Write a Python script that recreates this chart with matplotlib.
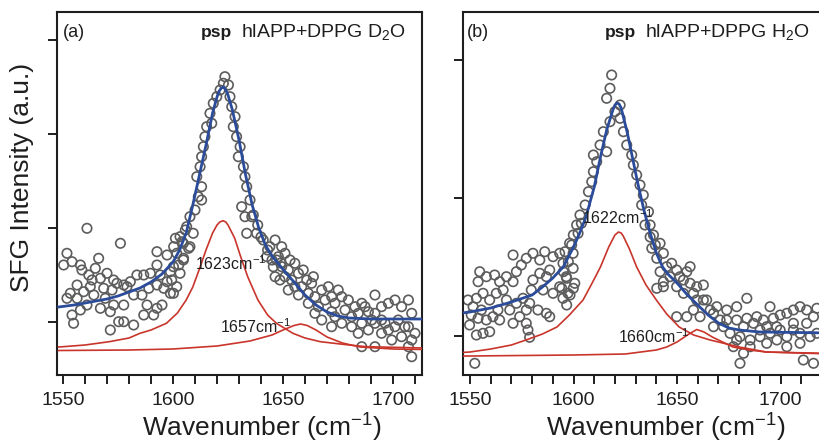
import numpy as np
import matplotlib
matplotlib.use("Agg")
import matplotlib.pyplot as plt
from matplotlib.ticker import MultipleLocator, FixedLocator

plt.rcParams['font.family'] = ['Liberation Sans', 'DejaVu Sans']
plt.rcParams['mathtext.fontset'] = 'custom'
plt.rcParams['mathtext.rm'] = 'Liberation Sans'
plt.rcParams['mathtext.it'] = 'Liberation Sans:italic'
plt.rcParams['mathtext.bf'] = 'Liberation Sans:bold'

# ---- panel (a): hIAPP + DPPG in D2O ----
wn_a = [1560.9, 1576.1, 1551.8, 1554.1, 1557.9, 1550.3, 1558.6, 1561.7, 1566.2, 1564.7,
        1563.2, 1567.0, 1556.4, 1559.4, 1562.4, 1553.3, 1551.8, 1556.4, 1564.0, 1568.5,
        1569.2, 1572.3, 1573.0, 1570.0, 1574.5, 1577.6, 1580.6, 1583.6, 1586.7, 1589.7,
        1592.7, 1594.2, 1592.7, 1597.3, 1600.3, 1601.1, 1604.1, 1607.1, 1605.6, 1598.8,
        1597.3, 1595.8, 1598.8, 1592.7, 1589.0, 1585.9, 1582.1, 1579.1, 1577.6, 1573.0,
        1571.5, 1575.3, 1577.6, 1582.1, 1571.5, 1567.0, 1560.9, 1557.9, 1554.1, 1554.8,
        1588.2, 1592.7, 1591.2, 1595.0, 1586.7, 1604.8, 1602.6,
        1623.6, 1622.9, 1621.4, 1625.2, 1619.9, 1625.9, 1618.3, 1626.7, 1616.8, 1628.2,
        1617.6, 1615.3, 1627.4, 1614.5, 1628.9, 1613.8, 1630.5, 1613.0, 1629.7, 1612.3,
        1632.0, 1610.8, 1632.7, 1613.0, 1633.5, 1611.5, 1613.0, 1631.2, 1635.0, 1610.0,
        1607.7, 1632.7, 1635.8, 1606.2, 1609.2, 1633.5, 1638.0, 1641.0, 1604.7, 1607.7,
        1601.7, 1604.7, 1644.0, 1642.6, 1647.1, 1600.2, 1603.2, 1599.4, 1601.7, 1600.2,
        1645.6, 1648.6, 1603.2, 1636.5, 1638.5, 1640.0, 1643.0, 1645.0, 1649.0,
        1646.4, 1647.9, 1650.9, 1649.4, 1646.4, 1652.4, 1655.4, 1653.9, 1657.0, 1658.5,
        1660.8, 1663.0, 1661.5, 1652.4, 1657.0, 1664.5, 1666.1, 1669.1, 1670.6, 1675.1,
        1676.7, 1673.6, 1679.7, 1682.7, 1685.8, 1691.8, 1688.8, 1691.8, 1694.8, 1697.9,
        1700.9, 1703.9, 1707.0, 1708.5, 1673.6, 1676.7, 1681.2, 1685.8, 1684.2, 1688.8,
        1691.8, 1694.8, 1697.9, 1700.9, 1703.9, 1708.5, 1707.0, 1708.5, 1699.4, 1691.8,
        1685.8, 1672.1, 1667.6,
        1649.4, 1653.2, 1659.2, 1663.8, 1667.6, 1672.1, 1678.2, 1684.2, 1687.3, 1694.8,
        1702.4, 1705.4, 1696.4, 1690.3, 1681.2, 1672.1, 1664.5, 1661.5, 1655.4, 1650.9,
        1707.0, 1710.0]
sfg_a = [146.7, 131.7, 121.7, 113.3, 110.0, 110.0, 105.0, 100.0, 116.7, 106.7,
         95.0, 96.7, 90.0, 83.3, 88.3, 81.7, 76.7, 76.7, 80.0, 86.7,
         76.7, 85.0, 95.0, 101.7, 91.7, 90.0, 93.3, 100.0, 100.0, 101.7,
         110.0, 100.0, 123.3, 120.0, 128.3, 136.7, 133.3, 126.7, 145.0, 103.3,
         93.3, 86.7, 81.7, 90.0, 86.7, 80.0, 80.0, 88.3, 70.0, 70.0,
         63.3, 53.3, 53.3, 50.0, 45.0, 66.7, 70.0, 65.0, 60.0, 51.7,
         70.0, 66.7, 60.0, 70.0, 60.0, 116.7, 110.0,
         298.3, 291.7, 285.0, 290.0, 278.3, 278.3, 271.7, 268.3, 261.7, 258.3,
         251.7, 248.3, 248.3, 238.3, 238.3, 228.3, 228.3, 218.3, 218.3, 208.3,
         208.3, 198.3, 198.3, 188.3, 188.3, 178.3, 175.0, 168.3, 175.0, 165.0,
         158.3, 158.3, 158.3, 148.3, 141.7, 141.7, 141.7, 135.0, 131.7, 128.3,
         121.7, 115.0, 128.3, 118.3, 115.0, 108.3, 101.7, 95.0, 88.3, 81.7,
         108.3, 95.0, 138.3, 160.0, 150.0, 138.0, 125.0, 115.0, 112.0,
         135.0, 118.3, 121.7, 108.3, 98.3, 105.0, 111.7, 95.0, 101.7, 88.3,
         95.0, 91.7, 81.7, 85.0, 80.0, 78.3, 68.3, 75.0, 88.3, 85.0,
         78.3, 71.7, 75.0, 68.3, 71.7, 80.0, 63.3, 61.7, 68.3, 71.7,
         75.0, 68.3, 75.0, 61.7, 58.3, 51.7, 48.3, 51.7, 41.7, 45.0,
         51.7, 41.7, 45.0, 48.3, 38.3, 35.0, 28.3, 18.3, 35.0, 28.3,
         28.3, 48.3, 55.0,
         128.3, 115.0, 105.0, 98.3, 85.0, 78.3, 65.0, 61.7, 68.3, 55.0,
         55.0, 48.3, 51.7, 55.0, 58.3, 63.3, 61.7, 71.7, 88.3, 98.3,
         48.3, 41.7]

fit_wn_a = [1548, 1555, 1560, 1565, 1570, 1575, 1580, 1585, 1590, 1595, 1600, 1603,
            1606, 1609, 1612, 1615, 1618, 1620, 1621, 1622, 1623, 1624, 1625, 1627,
            1630, 1633, 1636, 1639, 1642, 1645, 1648, 1651, 1655, 1660, 1665, 1670,
            1675, 1680, 1690, 1714]
fit_a = [68, 70, 72, 74, 76, 79, 83, 87, 93, 101, 113, 125,
         142, 170, 200, 230, 262, 278, 284, 287, 288, 285, 280, 265,
         235, 200, 170, 147, 130, 119, 111, 103, 93, 80, 70, 63,
         59, 57, 56, 56]

peak1_wn_a = [1548, 1550, 1560, 1571, 1580, 1585, 1590, 1597, 1602, 1606, 1609, 1612,
              1615, 1618, 1620, 1621.3, 1622.7, 1624, 1625, 1628, 1630.5, 1634, 1638.6,
              1643, 1647, 1654.5, 1660, 1667, 1680, 1688, 1714]
peak1_a = [28, 28.3, 30, 33.3, 37, 41.7, 45, 51.7, 62, 75, 88, 106,
           125, 142, 150, 153, 154.3, 153, 150, 137, 120, 98, 75,
           60, 51.7, 41.7, 37, 33.3, 30, 28.3, 27]

peak2_wn_a = [1548, 1580, 1600, 1620, 1635, 1645, 1650, 1655, 1658, 1661, 1665, 1670,
              1677, 1685, 1700, 1714]
peak2_a = [24.5, 25, 26, 29, 34, 40, 45, 49.5, 51, 49.5, 45, 38,
           32, 28, 26, 25.5]

# ---- panel (b): hIAPP + DPPG in H2O ----
wn_b = [1552.3, 1578.8, 1553.1, 1549.8, 1556.3, 1559.5, 1550.6, 1553.9, 1557.9, 1551.5,
        1555.5, 1549.0, 1553.1, 1556.3, 1559.5, 1562.7, 1553.9, 1554.7, 1557.9, 1561.9,
        1564.3, 1566.0, 1567.6, 1570.8, 1572.4, 1567.6, 1563.5, 1561.1, 1564.3, 1569.2,
        1572.4, 1575.6, 1577.2, 1578.8, 1582.8, 1586.9, 1588.5, 1577.2, 1578.0, 1570.8,
        1574.0, 1579.6, 1580.4, 1574.8, 1570.8, 1577.2, 1580.4, 1583.7, 1586.1, 1590.1,
        1593.3, 1594.9, 1598.1, 1599.8, 1602.2, 1603.8, 1599.8, 1596.5, 1593.3, 1590.1,
        1594.9, 1585.3, 1586.9, 1583.7, 1600.6, 1597.3, 1588.5,
        1618.4, 1617.6, 1616.0, 1620.0, 1617.6, 1622.5, 1614.4, 1624.1, 1612.8, 1625.7,
        1616.0, 1628.1, 1611.2, 1628.9, 1609.6, 1630.5, 1608.8, 1632.1, 1607.2, 1633.7,
        1605.6, 1632.9, 1603.1, 1636.2, 1601.5, 1637.0, 1599.9, 1599.1, 1638.6, 1595.9,
        1597.5, 1595.1, 1637.8, 1640.2, 1641.8, 1643.4, 1640.2, 1596.7, 1594.3, 1599.9,
        1598.3, 1596.7, 1609.6, 1622.5, 1634.5, 1637.0, 1639.5,
        1641.8, 1643.4, 1645.0, 1647.4, 1649.8, 1651.4, 1654.7, 1656.3, 1643.4, 1649.8,
        1653.1, 1656.3, 1659.5, 1662.7, 1664.3, 1659.5, 1657.9, 1661.1, 1666.0, 1669.2,
        1670.8, 1649.8, 1654.7, 1667.6, 1674.0, 1678.8, 1683.7, 1694.9, 1683.7, 1686.9,
        1691.7, 1696.5, 1699.8, 1703.0, 1706.2, 1709.4, 1712.6, 1717.5, 1675.6, 1680.4,
        1685.3, 1690.1, 1695.0, 1698.2, 1703.0, 1709.4, 1714.3, 1717.5, 1677.2, 1682.1,
        1680.4, 1703.0, 1711.0, 1715.9, 1706.2, 1699.8, 1690.1,
        1646.6, 1653.1, 1657.9, 1662.7, 1667.6, 1672.4, 1682.1, 1688.5, 1693.3, 1698.1,
        1706.2, 1712.6, 1715.9, 1678.8, 1693.3, 1685.3, 1709.4, 1674.0, 1678.8]
sfg_b = [11.7, 37.7, 40.0, 50.0, 41.7, 43.3, 60.0, 56.7, 55.0, 68.3,
         65.0, 75.0, 76.7, 81.7, 75.0, 81.7, 93.3, 103.3, 98.3, 100.0,
         93.3, 85.0, 98.3, 93.3, 103.3, 75.0, 65.0, 58.3, 55.0, 65.0,
         71.7, 76.7, 65.0, 71.7, 65.0, 61.7, 58.3, 51.7, 45.0, 51.7,
         58.3, 85.0, 95.0, 110.0, 120.0, 116.7, 121.7, 115.0, 123.3, 118.3,
         121.7, 111.7, 131.7, 121.7, 141.7, 151.7, 106.7, 98.3, 88.3, 81.7,
         76.7, 85.0, 98.3, 101.7, 91.7, 81.7, 105.0,
         300.0, 286.7, 276.7, 263.3, 253.3, 256.7, 243.3, 243.3, 230.0, 230.0,
         223.3, 220.0, 213.3, 210.0, 203.3, 200.0, 193.3, 190.0, 183.3, 180.0,
         170.0, 170.0, 160.0, 163.3, 150.0, 150.0, 140.0, 130.0, 140.0, 123.3,
         113.3, 103.3, 126.7, 116.7, 103.3, 93.3, 86.7, 96.7, 86.7, 86.7,
         80.0, 70.0, 220.0, 270.0, 150.0, 138.0, 130.0,
         131.7, 121.7, 108.3, 111.7, 105.0, 98.3, 103.3, 108.3, 88.3, 88.3,
         81.7, 91.7, 88.3, 90.0, 75.0, 75.0, 65.0, 58.3, 65.0, 68.3,
         55.0, 58.3, 58.3, 48.3, 55.0, 55.0, 76.7, 68.3, 56.7, 51.7,
         55.0, 56.7, 60.0, 61.7, 65.0, 68.3, 65.0, 66.7, 41.7, 38.3,
         35.0, 38.3, 41.7, 35.0, 38.3, 41.7, 38.3, 41.7, 28.3, 21.7,
         11.7, 28.3, 15.0, 11.7, 51.7, 45.0, 45.0,
         98.3, 95.0, 81.7, 75.0, 61.7, 48.3, 48.3, 58.3, 48.3, 48.3,
         45.0, 51.7, 58.3, 35.0, 31.7, 28.3, 31.7, 65.0, 68.3]

fit_wn_b = [1546, 1550, 1560, 1570, 1580, 1585, 1590, 1595, 1600, 1603, 1606, 1610,
            1613, 1616, 1619, 1620, 1621, 1622, 1623, 1626, 1628, 1631, 1634, 1637,
            1640, 1643, 1646, 1650, 1655, 1660, 1665, 1670, 1675, 1680, 1690, 1725]
fit_b = [62, 63, 67, 73, 80, 88, 97, 108, 128, 142, 158, 188,
         218, 245, 265, 270, 272, 271, 267, 242, 222, 192, 165, 142,
         122, 108, 100, 92, 80, 70, 60, 52, 47, 45, 43, 42]

peak1_wn_b = [1546, 1550, 1560, 1570, 1577, 1585, 1592, 1598, 1604.6, 1609, 1613, 1617,
              1620, 1621.7, 1623, 1624, 1627, 1630.5, 1635, 1640, 1645, 1651, 1658,
              1666, 1680, 1693, 1725]
peak1_b = [22.5, 23, 26, 30, 35, 41, 48, 60, 75, 92, 108, 128,
           140, 143, 142, 139, 126, 108, 90, 75, 61, 48, 40,
           35, 28, 23, 21]

peak2_wn_b = [1546, 1550, 1600, 1625, 1640, 1645, 1650, 1655, 1659.5, 1663, 1667, 1672,
              1677, 1685, 1693, 1725]
peak2_b = [19, 19, 20, 21, 25, 28, 33, 40, 45.5, 43, 38, 33,
           28, 25, 23, 21.5]

BLUE = "#2b4c9b"
RED = "#c9352b"
GRAY = "#5c5c5c"
INK = "#1e1e1e"

fig = plt.figure(figsize=(8.2, 4.47), dpi=100)
ax_a = fig.add_axes([57 / 820, 72 / 447, 365 / 820, 363 / 447])
ax_b = fig.add_axes([463 / 820, 72 / 447, 365 / 820, 363 / 447])

panels = [
    (ax_a, wn_a, sfg_a, fit_wn_a, fit_a, peak1_wn_a, peak1_a, peak2_wn_a, peak2_a,
     (1547.27, 1713.18), [53, 147, 241, 335]),
    (ax_b, wn_b, sfg_b, fit_wn_b, fit_b, peak1_wn_b, peak1_b, peak2_wn_b, peak2_b,
     (1546.62, 1722.9), [39, 177, 315]),
]

for ax, wn, sfg, fwn, fit, p1wn, p1, p2wn, p2, xlim, yt in panels:
    ax.scatter(wn, sfg, s=46, facecolors="none", edgecolors=GRAY, linewidths=1.2, zorder=2)
    ax.plot(p1wn, p1, color=RED, linewidth=1.2, zorder=3)
    ax.plot(p2wn, p2, color=RED, linewidth=1.2, zorder=3)
    ax.plot(fwn, fit, color=BLUE, linewidth=2.0, zorder=4)
    ax.set_xlim(*xlim)
    ax.set_ylim(0, 363)
    ax.xaxis.set_major_locator(FixedLocator([1550, 1600, 1650, 1700]))
    ax.xaxis.set_minor_locator(MultipleLocator(10))
    ax.yaxis.set_major_locator(FixedLocator(yt))
    ax.set_yticklabels([])
    ax.tick_params(axis="both", which="both", direction="out", length=6.5, width=1.4,
                   color=INK)
    ax.tick_params(axis="x", which="major", labelsize=14, pad=6, labelcolor=INK)
    for sp in ax.spines.values():
        sp.set_linewidth(1.5)
        sp.set_color(INK)

# titles and labels
ax_a.text(0.016, 0.930, "(a)", transform=ax_a.transAxes, fontsize=13, color=INK)
ax_a.text(0.479, 0.930, "psp", transform=ax_a.transAxes, fontsize=12.5,
          fontweight="bold", ha="right", color=INK)
ax_a.text(0.504, 0.930, "hlAPP+DPPG D$_2$O", transform=ax_a.transAxes, fontsize=14,
          ha="left", color=INK)
ax_b.text(0.010, 0.930, "(b)", transform=ax_b.transAxes, fontsize=13, color=INK)
ax_b.text(0.474, 0.930, "psp", transform=ax_b.transAxes, fontsize=12.5,
          fontweight="bold", ha="right", color=INK)
ax_b.text(0.499, 0.930, "hlAPP+DPPG H$_2$O", transform=ax_b.transAxes, fontsize=14,
          ha="left", color=INK)

ax_a.text(1610, 105, "1623cm$^{-1}$", fontsize=11.5, va="baseline", color=INK, zorder=5)
ax_a.text(1621.4, 42.3, "1657cm$^{-1}$", fontsize=11.5, va="baseline", color=INK, zorder=5)
ax_b.text(1603.9, 151, "1622cm$^{-1}$", fontsize=11.5, va="baseline", color=INK, zorder=5)
ax_b.text(1621.5, 32.3, "1660cm$^{-1}$", fontsize=11.5, va="baseline", color=INK, zorder=5)

ax_a.set_ylabel("SFG Intensity (a.u.)", fontsize=19, va="center", color=INK)
ax_a.yaxis.set_label_coords((22 - 57) / 365, 0.545)
for ax, cx in [(ax_a, 0.562), (ax_b, 0.556)]:
    ax.set_xlabel("Wavenumber (cm$^{-1}$)", fontsize=19, va="center", color=INK)
    ax.xaxis.set_label_coords(cx, -0.146)

fig.savefig("out.png", dpi=100)
